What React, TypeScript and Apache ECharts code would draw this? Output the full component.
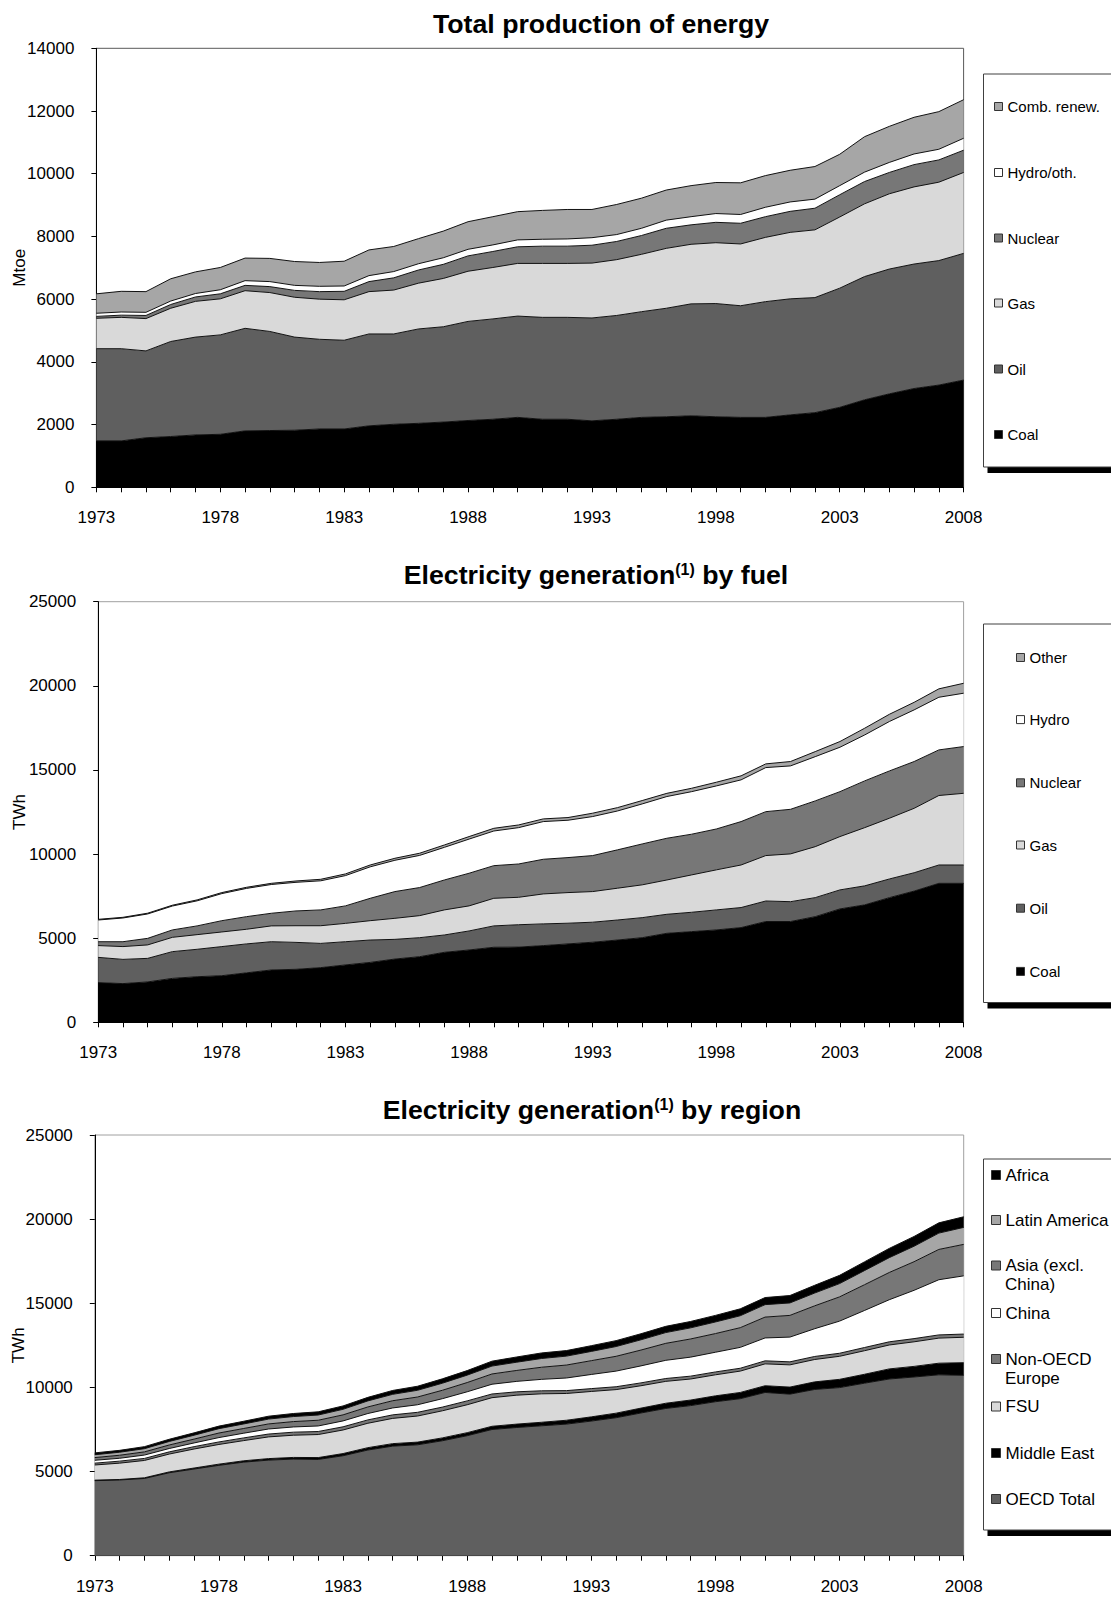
import React, { useEffect, useRef } from "react";
import * as echarts from "echarts";

// ---- data -------------------------------------------------------------

const years = [
  "1973", "1974", "1975", "1976", "1977", "1978", "1979", "1980", "1981", "1982",
  "1983", "1984", "1985", "1986", "1987", "1988", "1989", "1990", "1991", "1992",
  "1993", "1994", "1995", "1996", "1997", "1998", "1999", "2000", "2001", "2002",
  "2003", "2004", "2005", "2006", "2007", "2008",
];

// Total production of energy (Mtoe)
const prodCoal = [1480, 1480, 1580, 1620, 1670, 1690, 1800, 1810, 1820, 1860, 1860, 1960, 2010, 2040, 2080, 2130, 2170, 2230, 2170, 2170, 2120, 2170, 2230, 2250, 2280, 2250, 2230, 2230, 2310, 2380, 2550, 2790, 2980, 3150, 3260, 3420];
const prodOil = [2940, 2940, 2770, 3030, 3120, 3170, 3270, 3160, 2970, 2860, 2830, 2930, 2880, 3010, 3040, 3160, 3200, 3230, 3250, 3250, 3280, 3310, 3370, 3460, 3570, 3610, 3560, 3690, 3700, 3670, 3800, 3930, 3980, 3970, 3970, 4040];
const prodGas = [970, 1000, 1030, 1060, 1140, 1150, 1200, 1240, 1270, 1280, 1290, 1350, 1400, 1460, 1540, 1600, 1640, 1680, 1720, 1720, 1750, 1780, 1830, 1910, 1900, 1940, 1970, 2050, 2120, 2160, 2270, 2320, 2400, 2460, 2500, 2580];
const prodNuclear = [60, 70, 100, 120, 140, 160, 170, 190, 220, 240, 270, 320, 390, 420, 450, 490, 510, 530, 550, 550, 570, 580, 600, 640, 620, 650, 660, 660, 670, 690, 710, 710, 680, 710, 710, 710];
const prodHydro = [100, 100, 100, 110, 110, 130, 150, 160, 160, 170, 170, 190, 200, 200, 210, 210, 210, 220, 220, 230, 240, 220, 230, 260, 260, 280, 280, 300, 300, 290, 290, 300, 320, 340, 340, 380];
const prodRenew = [620, 660, 660, 710, 690, 710, 720, 740, 760, 760, 790, 820, 800, 800, 850, 880, 900, 900, 920, 940, 900, 960, 960, 960, 990, 990, 1010, 1010, 1010, 1040, 1000, 1130, 1150, 1170, 1200, 1230];

// Electricity generation by fuel (TWh)
const fuelCoal = [2360, 2300, 2400, 2610, 2710, 2770, 2940, 3110, 3150, 3250, 3410, 3560, 3760, 3900, 4160, 4300, 4460, 4470, 4560, 4660, 4760, 4890, 5030, 5290, 5390, 5490, 5630, 5990, 5990, 6280, 6740, 6980, 7410, 7800, 8260, 8260];
const fuelOil = [1500, 1440, 1400, 1590, 1630, 1730, 1720, 1680, 1600, 1440, 1380, 1330, 1170, 1130, 1030, 1130, 1270, 1330, 1290, 1230, 1190, 1190, 1190, 1130, 1150, 1190, 1190, 1220, 1180, 1130, 1130, 1130, 1110, 1090, 1090, 1090];
const fuelGas = [700, 760, 800, 850, 870, 870, 870, 940, 990, 1050, 1090, 1150, 1250, 1310, 1490, 1490, 1640, 1630, 1780, 1820, 1820, 1890, 1950, 2040, 2220, 2380, 2530, 2700, 2840, 3030, 3170, 3460, 3610, 3830, 4130, 4260];
const fuelNuclear = [230, 290, 390, 440, 520, 670, 750, 750, 880, 940, 1040, 1330, 1590, 1670, 1780, 1940, 1940, 1980, 2060, 2080, 2140, 2280, 2430, 2480, 2420, 2430, 2580, 2610, 2650, 2720, 2670, 2780, 2810, 2780, 2710, 2780];
const fuelHydro = [1290, 1410, 1450, 1420, 1490, 1610, 1680, 1710, 1700, 1730, 1800, 1870, 1860, 1910, 1940, 2030, 2060, 2160, 2240, 2220, 2320, 2310, 2380, 2480, 2530, 2560, 2480, 2620, 2580, 2630, 2640, 2730, 2940, 3070, 3130, 3170];
const fuelOther = [40, 40, 45, 50, 55, 60, 65, 70, 80, 90, 100, 110, 120, 130, 140, 150, 160, 160, 160, 160, 200, 200, 200, 190, 200, 220, 240, 220, 260, 300, 340, 400, 430, 450, 500, 590];

// Electricity generation by region (TWh)
const regOecd = [4460, 4500, 4590, 4930, 5150, 5370, 5560, 5680, 5740, 5720, 5940, 6280, 6510, 6590, 6830, 7130, 7500, 7620, 7720, 7820, 8000, 8200, 8480, 8750, 8920, 9150, 9330, 9700, 9600, 9880, 9990, 10250, 10500, 10620, 10750, 10720];
const regMidEast = [30, 30, 40, 50, 60, 70, 80, 90, 100, 110, 130, 140, 150, 160, 170, 180, 190, 200, 210, 230, 250, 270, 290, 310, 330, 350, 370, 400, 420, 450, 490, 530, 600, 630, 690, 750];
const regFsu = [900, 970, 1030, 1060, 1130, 1170, 1200, 1290, 1320, 1370, 1400, 1450, 1500, 1550, 1610, 1660, 1700, 1720, 1690, 1590, 1510, 1400, 1330, 1300, 1250, 1250, 1270, 1300, 1320, 1330, 1370, 1400, 1420, 1460, 1490, 1510];
const regNonOecdEur = [110, 120, 120, 130, 140, 150, 160, 170, 180, 180, 190, 200, 210, 220, 220, 230, 220, 200, 180, 170, 170, 170, 170, 170, 170, 170, 170, 180, 180, 180, 180, 190, 190, 190, 190, 190];
const regChina = [170, 170, 200, 200, 220, 260, 280, 300, 310, 330, 350, 380, 410, 450, 500, 540, 580, 620, 680, 750, 840, 930, 1010, 1080, 1130, 1170, 1240, 1360, 1470, 1650, 1910, 2200, 2500, 2870, 3280, 3460];
const regAsia = [160, 180, 190, 210, 230, 270, 280, 300, 320, 340, 360, 390, 430, 460, 500, 550, 610, 650, 720, 770, 820, 880, 940, 1010, 1080, 1110, 1170, 1240, 1290, 1360, 1440, 1530, 1620, 1700, 1800, 1870];
const regLatAm = [170, 180, 190, 210, 230, 260, 270, 290, 300, 310, 330, 360, 380, 400, 420, 440, 470, 490, 520, 530, 550, 580, 610, 640, 660, 690, 710, 740, 740, 760, 790, 840, 880, 920, 970, 1010];
const regAfrica = [110, 110, 120, 130, 140, 150, 160, 170, 180, 190, 200, 210, 230, 240, 260, 270, 290, 310, 330, 330, 340, 350, 360, 370, 380, 390, 410, 420, 440, 460, 490, 520, 550, 580, 610, 630];

// ---- styling ----------------------------------------------------------

const FONT = "'Liberation Sans', Arial, Helvetica, sans-serif";
const BLACK = "#000000";
const DARK = "#5f5f5f";
const MID = "#777777";
const LIGHT = "#d9d9d9";
const SILVER = "#a6a6a6";
const WHITE = "#ffffff";
const TITLE_SIZE = 26.7;

type Layer = { name: string; data: number[]; fill: string };

type Panel = {
  grid: { left: number; top: number; width: number; height: number };
  yMax: number;
  yStep: number;
  yName: string;
  yNameGap: number;
  title: string;
  titleRich: boolean;
  titleX: number;
  titleTop: number;
  border: string;
  layers: Layer[]; // bottom of the stack first
  slots: number[]; // legend row centres, top row first
  markerX: number;
  marker: number;
  legendFont: number;
  box: { x: number; y: number; h: number };
};

const panels: Panel[] = [
  {
    grid: { left: 96.4, top: 48.3, width: 867.2, height: 439 },
    yMax: 14000,
    yStep: 2000,
    yName: "Mtoe",
    yNameGap: 68,
    title: "Total production of energy",
    titleRich: false,
    titleX: 601,
    titleTop: 10,
    border: "#595959",
    layers: [
      { name: "Coal", data: prodCoal, fill: BLACK },
      { name: "Oil", data: prodOil, fill: DARK },
      { name: "Gas", data: prodGas, fill: LIGHT },
      { name: "Nuclear", data: prodNuclear, fill: MID },
      { name: "Hydro/oth.", data: prodHydro, fill: WHITE },
      { name: "Comb. renew.", data: prodRenew, fill: SILVER },
    ],
    slots: [106.5, 172.5, 238, 303, 369, 434.5],
    markerX: 994,
    marker: 8,
    legendFont: 15,
    box: { x: 983.5, y: 74, h: 393 },
  },
  {
    grid: { left: 98.2, top: 601.7, width: 865.4, height: 420.6 },
    yMax: 25000,
    yStep: 5000,
    yName: "TWh",
    yNameGap: 70,
    title: "{b|Electricity generation}{s|(1)}{b| by fuel}",
    titleRich: true,
    titleX: 596,
    titleTop: 561,
    border: "#a0a0a0",
    layers: [
      { name: "Coal", data: fuelCoal, fill: BLACK },
      { name: "Oil", data: fuelOil, fill: DARK },
      { name: "Gas", data: fuelGas, fill: LIGHT },
      { name: "Nuclear", data: fuelNuclear, fill: MID },
      { name: "Hydro", data: fuelHydro, fill: WHITE },
      { name: "Other", data: fuelOther, fill: SILVER },
    ],
    slots: [657.5, 719.6, 782.8, 845, 908.2, 971.4],
    markerX: 1016,
    marker: 8,
    legendFont: 15,
    box: { x: 983.5, y: 624, h: 378.5 },
  },
  {
    grid: { left: 94.8, top: 1135, width: 868.9, height: 420.7 },
    yMax: 25000,
    yStep: 5000,
    yName: "TWh",
    yNameGap: 68,
    title: "{b|Electricity generation}{s|(1)}{b| by region}",
    titleRich: true,
    titleX: 592,
    titleTop: 1096,
    border: "#a0a0a0",
    layers: [
      { name: "OECD Total", data: regOecd, fill: DARK },
      { name: "Middle East", data: regMidEast, fill: BLACK },
      { name: "FSU", data: regFsu, fill: LIGHT },
      { name: "Non-OECD\nEurope", data: regNonOecdEur, fill: MID },
      { name: "China", data: regChina, fill: WHITE },
      { name: "Asia (excl.\nChina)", data: regAsia, fill: MID },
      { name: "Latin America", data: regLatAm, fill: SILVER },
      { name: "Africa", data: regAfrica, fill: BLACK },
    ],
    slots: [1175, 1220, 1265.5, 1313, 1359, 1406.5, 1453, 1499],
    markerX: 991,
    marker: 9,
    legendFont: 17,
    box: { x: 983.5, y: 1159, h: 371 },
  },
];

function buildOption() {
  const grid: any[] = [];
  const xAxis: any[] = [];
  const yAxis: any[] = [];
  const series: any[] = [];
  const title: any[] = [];
  const legend: any[] = [];
  const graphic: any[] = [];

  panels.forEach((p, i) => {
    grid.push({
      ...p.grid,
      show: true,
      borderColor: p.border,
      borderWidth: 1,
      backgroundColor: "transparent",
      containLabel: false,
      outerBoundsMode: "none",
    });

    xAxis.push({
      gridIndex: i,
      type: "category",
      data: years,
      boundaryGap: false,
      axisLine: { show: true, onZero: false, lineStyle: { color: BLACK, width: 1 } },
      axisTick: { show: true, interval: 0, length: 5, lineStyle: { color: BLACK } },
      axisLabel: { interval: 4, margin: 22, fontSize: 17, color: BLACK, fontFamily: FONT },
      splitLine: { show: false },
    });

    yAxis.push({
      gridIndex: i,
      type: "value",
      min: 0,
      max: p.yMax,
      interval: p.yStep,
      name: p.yName,
      nameLocation: "middle",
      nameRotate: 90,
      nameGap: p.yNameGap,
      nameMoveOverlap: false,
      nameTextStyle: { fontSize: 17, color: BLACK, fontFamily: FONT },
      axisLine: { show: true, lineStyle: { color: BLACK, width: 1 } },
      axisTick: { show: true, length: 5, lineStyle: { color: BLACK } },
      axisLabel: {
        margin: 22,
        fontSize: 17,
        color: BLACK,
        fontFamily: FONT,
        formatter: (v: number) => String(v),
      },
      splitLine: { show: false },
    });

    title.push({
      text: p.title,
      left: p.titleX,
      top: p.titleTop,
      textAlign: "center",
      padding: 0,
      textStyle: p.titleRich
        ? {
            rich: {
              b: { fontSize: TITLE_SIZE, fontWeight: "bold", color: BLACK, fontFamily: FONT, lineHeight: 28 },
              s: { fontSize: 16, fontWeight: "bold", color: BLACK, fontFamily: FONT, lineHeight: 18, verticalAlign: "top" },
            },
          }
        : { fontSize: TITLE_SIZE, fontWeight: "bold", color: BLACK, fontFamily: FONT, lineHeight: 28 },
    });

    p.layers.forEach((l) => {
      series.push({
        type: "line",
        name: l.name,
        xAxisIndex: i,
        yAxisIndex: i,
        stack: "panel" + i,
        data: l.data,
        symbol: "none",
        showSymbol: false,
        color: l.fill,
        lineStyle: { color: "#111111", width: 1 },
        areaStyle: { color: l.fill, opacity: 1 },
        itemStyle: { color: l.fill, borderColor: "#333333", borderWidth: 1 },
        emphasis: { disabled: true },
        silent: true,
      });
    });

    // legend frame with its drop shadow
    graphic.push({
      type: "rect",
      z: 0,
      shape: { x: p.box.x + 4, y: p.box.y + 6, width: 220, height: p.box.h },
      style: { fill: BLACK },
    });
    graphic.push({
      type: "rect",
      z: 1,
      shape: { x: p.box.x, y: p.box.y, width: 220, height: p.box.h },
      style: { fill: WHITE, stroke: "#404040", lineWidth: 1 },
    });

    const ordered = [...p.layers].reverse();
    ordered.forEach((l, k) => {
      const lines = l.name.split("\n");
      legend.push({
        data: [l.name],
        orient: "vertical",
        left: p.markerX,
        top: p.slots[k] - 10,
        padding: 0,
        itemGap: 0,
        itemWidth: p.marker,
        itemHeight: p.marker,
        icon: "rect",
        selectedMode: false,
        itemStyle: { borderColor: "#333333", borderWidth: 1 },
        formatter: () => lines[0],
        textStyle: { fontSize: p.legendFont, color: BLACK, fontFamily: FONT, lineHeight: 20 },
      });
      if (lines.length > 1) {
        graphic.push({
          type: "text",
          z: 10,
          x: p.markerX + p.marker + 5,
          y: p.slots[k] + 19,
          style: {
            text: lines[1],
            fontSize: p.legendFont,
            fontFamily: FONT,
            fill: BLACK,
            align: "left",
            verticalAlign: "middle",
          },
        });
      }
    });
  });

  return {
    animation: false,
    backgroundColor: WHITE,
    textStyle: { fontFamily: FONT },
    title,
    grid,
    xAxis,
    yAxis,
    legend,
    series,
    graphic,
  };
}

export default function App() {
  const ref = useRef<HTMLDivElement>(null);

  useEffect(() => {
    if (!ref.current) return;
    const chart = echarts.init(ref.current, null, { renderer: "svg" });
    chart.setOption(buildOption());
    return () => chart.dispose();
  }, []);

  return (
    <div
      ref={ref}
      style={{ position: "absolute", left: 0, top: 0, width: 1111, height: 1598, background: "#fff" }}
    />
  );
}
